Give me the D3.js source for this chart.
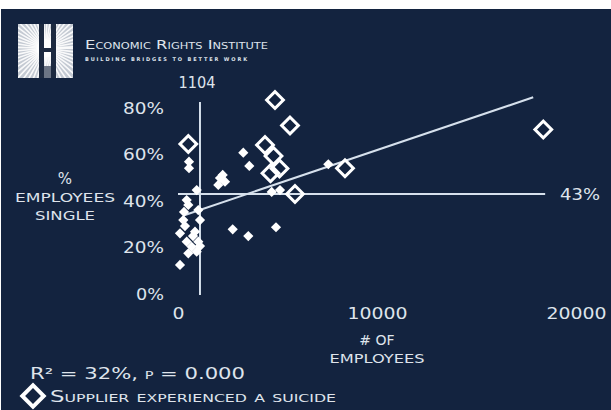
<!DOCTYPE html>
<html>
<head>
<meta charset="utf-8">
<script src="https://cdn.jsdelivr.net/npm/d3@7"></script>
<style>
  html, body { margin: 0; padding: 0; background: #ffffff; }
  svg { display: block; }
  text { font-family: "DejaVu Sans", "Liberation Sans", sans-serif; fill: #dfe4ec; }
</style>
</head>
<body>
<svg id="chart" width="611" height="410"></svg>
<script>
// ---------------- DATA ----------------
// Suppliers without a suicide (filled diamonds): employees, % single
const plainEmployees = [553, 553, 3281, 3583, 2246, 2362, 2025, 2110, 7553, 940, 437, 4709, 5126,
  2749, 3533, 4925, 518, 1020, 266, 1106, 100, 854, 437, 1020, 688, 940, 518, 100, 302, 754, 1106, 352];
const plainSingle = [56.9, 54.1, 60.8, 55.1, 51.2, 48.3, 46.9, 49.9, 55.8, 44.7, 40.4, 43.9, 44.7,
  27.8, 24.9, 28.7, 38.3, 36.1, 31.8, 31.8, 26.1, 26.8, 22.5, 22.5, 20.3, 18.2, 17.5, 12.5, 35.3, 24.9, 20.6, 29.2];
// Suppliers that experienced a suicide (hollow diamonds)
const suicideEmployees = [4874, 5628, 518, 4372, 4799, 5100, 4648, 5879, 8392, 18356];
const suicideSingle = [83.4, 72.5, 64.5, 64.1, 59.4, 54.0, 51.9, 43.0, 54.1, 70.8];
// Reference lines
const medianEmployees = 1104;          // vertical line
const meanSingle = 43;                 // horizontal line
const meanLineEnd = 18450;
const regX = [350, 17850];             // regression line endpoints
const regY = [34, 84.6];
// Ticks / labels
const yTicks = [0, 20, 40, 60, 80];
const xTicks = [0, 10000, 20000];
const statsLabel = "R² = 32%, p = 0.000";
const legendLabel = "Supplier experienced a suicide";

// ---------------- DRAW ----------------
const svg = d3.select("#chart");
const BG = "#13233f", INK = "#dfe4ec", LINE = "#d6e0ec";

svg.append("rect").attr("x", 1).attr("y", 9).attr("width", 610).attr("height", 401).attr("fill", BG);

const x = d3.scaleLinear().domain([0, 20000]).range([178, 576]);
const y = d3.scaleLinear().domain([0, 80]).range([294, 108]);

// ---- logo ----
const logo = svg.append("g");
const lx0 = 18, ly0 = 24, lw = 55, lh = 54;
const clip = svg.append("clipPath").attr("id", "logoclip");
clip.append("rect").attr("x", lx0).attr("y", ly0).attr("width", lw).attr("height", lh);
logo.append("rect").attr("x", lx0).attr("y", ly0).attr("width", lw).attr("height", lh).attr("fill", "#c4cad3");
const rays = logo.append("g").attr("clip-path", "url(#logoclip)");
const cx = lx0 + lw / 2, cy = ly0 + lh * 0.45;
d3.range(0, 360, 7).forEach(a => {
  const r = a * Math.PI / 180;
  rays.append("line").attr("x1", cx).attr("y1", cy)
    .attr("x2", cx + 80 * Math.cos(r)).attr("y2", cy + 80 * Math.sin(r))
    .attr("stroke", "#ffffff").attr("stroke-width", 1.6).attr("opacity", 0.9);
});
rays.append("circle").attr("cx", cx).attr("cy", cy).attr("r", 9).attr("fill", "#ffffff");
// H pylons
logo.append("rect").attr("x", 39).attr("y", ly0).attr("width", 5).attr("height", lh).attr("fill", "#1d2a40");
logo.append("rect").attr("x", 51).attr("y", ly0).attr("width", 5).attr("height", lh).attr("fill", "#1d2a40");
logo.append("rect").attr("x", 39).attr("y", 48).attr("width", 17).attr("height", 4).attr("fill", "#1d2a40");
logo.append("rect").attr("x", 44).attr("y", 66).attr("width", 7).attr("height", 12).attr("fill", "#6c7585");

svg.append("text").attr("x", 85).attr("y", 49).attr("font-size", 13)
  .style("font-variant", "small-caps").attr("textLength", 183).attr("lengthAdjust", "spacingAndGlyphs")
  .text("Economic Rights Institute");
svg.append("text").attr("x", 85).attr("y", 61).attr("font-size", 5).attr("font-weight", "bold")
  .attr("textLength", 162).attr("lengthAdjust", "spacing").attr("fill", "#b8c0cc")
  .text("BUILDING BRIDGES TO BETTER WORK");

// ---- axes (labels only) ----
const yAxis = svg.append("g").attr("transform", `translate(${x(0)},0)`)
  .call(d3.axisLeft(y).tickValues(yTicks).tickFormat(d => d + "%").tickSize(0).tickPadding(14));
yAxis.select(".domain").remove();
yAxis.selectAll("text").attr("font-size", 15).attr("fill", INK)
  .attr("font-family", "DejaVu Sans, sans-serif").attr("dy", "0.35em")
  .attr("textLength", d => d === 0 ? 28 : 41).attr("lengthAdjust", "spacingAndGlyphs");

const xAxis = svg.append("g").attr("transform", `translate(0,${y(0)})`)
  .call(d3.axisBottom(x).tickValues(xTicks).tickFormat(d3.format("d")).tickSize(0).tickPadding(14));
xAxis.select(".domain").remove();
xAxis.selectAll("text").attr("font-size", 16).attr("fill", INK)
  .attr("font-family", "DejaVu Sans, sans-serif")
  .attr("textLength", d => d === 0 ? 12 : 60).attr("lengthAdjust", "spacingAndGlyphs");

// axis titles
const yt = svg.append("g").attr("font-size", 13);
yt.append("text").attr("x", 65).attr("y", 184).attr("text-anchor", "middle").attr("font-size", 15).text("%");
yt.append("text").attr("x", 65).attr("y", 202).attr("text-anchor", "middle")
  .attr("textLength", 100).attr("lengthAdjust", "spacingAndGlyphs").text("EMPLOYEES");
yt.append("text").attr("x", 65).attr("y", 220).attr("text-anchor", "middle")
  .attr("textLength", 60).attr("lengthAdjust", "spacingAndGlyphs").text("SINGLE");

const xt = svg.append("g").attr("font-size", 13);
xt.append("text").attr("x", x(10000)).attr("y", 345).attr("text-anchor", "middle")
  .attr("font-size", 14).text("# OF");
xt.append("text").attr("x", x(10000)).attr("y", 363).attr("text-anchor", "middle")
  .attr("textLength", 95).attr("lengthAdjust", "spacingAndGlyphs").text("EMPLOYEES");

// ---- reference lines ----
svg.append("line").attr("x1", x(medianEmployees)).attr("x2", x(medianEmployees))
  .attr("y1", 102).attr("y2", y(0) + 1).attr("stroke", LINE).attr("stroke-width", 2);
svg.append("line").attr("x1", x(0)).attr("x2", x(meanLineEnd))
  .attr("y1", y(meanSingle)).attr("y2", y(meanSingle)).attr("stroke", LINE).attr("stroke-width", 2);
svg.append("line").attr("x1", x(regX[0])).attr("x2", x(regX[1]))
  .attr("y1", y(regY[0])).attr("y2", y(regY[1])).attr("stroke", LINE).attr("stroke-width", 2);

svg.append("text").attr("x", x(medianEmployees) - 3).attr("y", 88).attr("text-anchor", "middle")
  .attr("font-size", 16).attr("textLength", 37).attr("lengthAdjust", "spacingAndGlyphs").text(medianEmployees);
svg.append("text").attr("x", 560).attr("y", y(meanSingle) + 6).attr("font-size", 15)
  .attr("textLength", 40).attr("lengthAdjust", "spacingAndGlyphs").text(meanSingle + "%");

// ---- points ----
const square = (area) => d3.symbol().type(d3.symbolSquare).size(area);
svg.append("g").selectAll("path").data(plainEmployees.map((e, i) => [e, plainSingle[i]]))
  .join("path")
  .attr("d", square(52))
  .attr("transform", d => `translate(${x(d[0])},${y(d[1])}) rotate(45)`)
  .attr("fill", "#ffffff");

svg.append("g").selectAll("path").data(suicideEmployees.map((e, i) => [e, suicideSingle[i]]))
  .join("path")
  .attr("d", square(140))
  .attr("transform", d => `translate(${x(d[0])},${y(d[1])}) rotate(45)`)
  .attr("fill", "none").attr("stroke", "#ffffff").attr("stroke-width", 3);

// ---- stats + legend ----
svg.append("text").attr("x", 30).attr("y", 379).attr("font-size", 16)
  .style("font-variant", "small-caps").attr("textLength", 215).attr("lengthAdjust", "spacingAndGlyphs")
  .text(statsLabel);
svg.append("path").attr("d", square(230)).attr("transform", "translate(33,396) rotate(45)")
  .attr("fill", "none").attr("stroke", "#ffffff").attr("stroke-width", 4);
svg.append("text").attr("x", 50).attr("y", 402).attr("font-size", 16)
  .style("font-variant", "small-caps").attr("textLength", 286).attr("lengthAdjust", "spacingAndGlyphs")
  .text(legendLabel);
</script>
</body>
</html>
